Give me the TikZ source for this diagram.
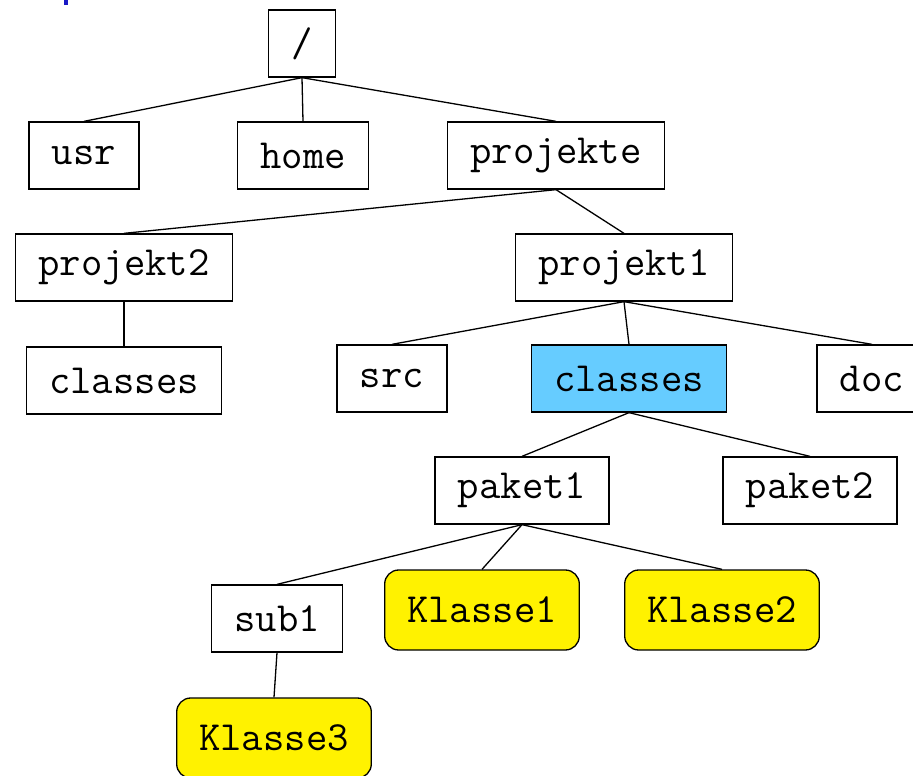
\documentclass[tikz,border=0pt]{standalone}
\usepackage{fontspec}
\tikzset{
    dir/.style={draw, line width=1.3pt, fill=white, minimum height=67pt,
        inner xsep=23pt, font=\ttfamily\fontsize{41.5}{44}\selectfont},
    sel/.style={dir, fill=selblau},
    klasse/.style={dir, fill=yellow, rounded corners=14pt, minimum height=80pt,
        inner xsep=22.5pt},
    kante/.style={line width=1.3pt}
}
\definecolor{selblau}{RGB}{102,204,255}
\begin{document}
\begin{tikzpicture}[x=1pt, y=-1pt]
    \useasboundingbox (0,0) rectangle (913,776);
    \fill[blue!75!black!90] (64,0) rectangle (68,5);

    % Livello 0 e 1
    \node[dir] (root) at (302,43.5) {/};
    \node[dir] (usr) at (84,155.5) {usr};
    \node[dir] (home) at (303,155.5) {home};
    \node[dir] (projekte) at (556,155.5) {projekte};

    % Progetti
    \node[dir] (projekt2) at (124,267.5) {projekt2};
    \node[dir] (projekt1) at (624,267.5) {projekt1};
    \node[dir] (classes2) at (124,380.5) {classes};

    % Contenuto di projekt1
    \node[dir] (src) at (392,378.5) {src};
    \node[sel] (classes1) at (629,378.5) {classes};
    \node[dir] (doc) at (872,378.5) {doc};

    % Pacchetti
    \node[dir] (paket1) at (522,490.5) {paket1};
    \node[dir] (paket2) at (810,490.5) {paket2};

    % Classi
    \node[dir] (sub1) at (277,618.5) {sub1};
    \node[klasse] (klasse1) at (482,610) {Klasse1};
    \node[klasse] (klasse2) at (722,610) {Klasse2};
    \node[klasse] (klasse3) at (274,738) {Klasse3};

    % Collegamenti
    \foreach \a/\b in {root/usr, root/home, root/projekte,
                       projekte/projekt2, projekte/projekt1,
                       projekt2/classes2,
                       projekt1/src, projekt1/classes1, projekt1/doc,
                       classes1/paket1, classes1/paket2,
                       paket1/sub1, paket1/klasse1, paket1/klasse2,
                       sub1/klasse3}
        \draw[kante] (\a.south) -- (\b.north);
\end{tikzpicture}
\end{document}
